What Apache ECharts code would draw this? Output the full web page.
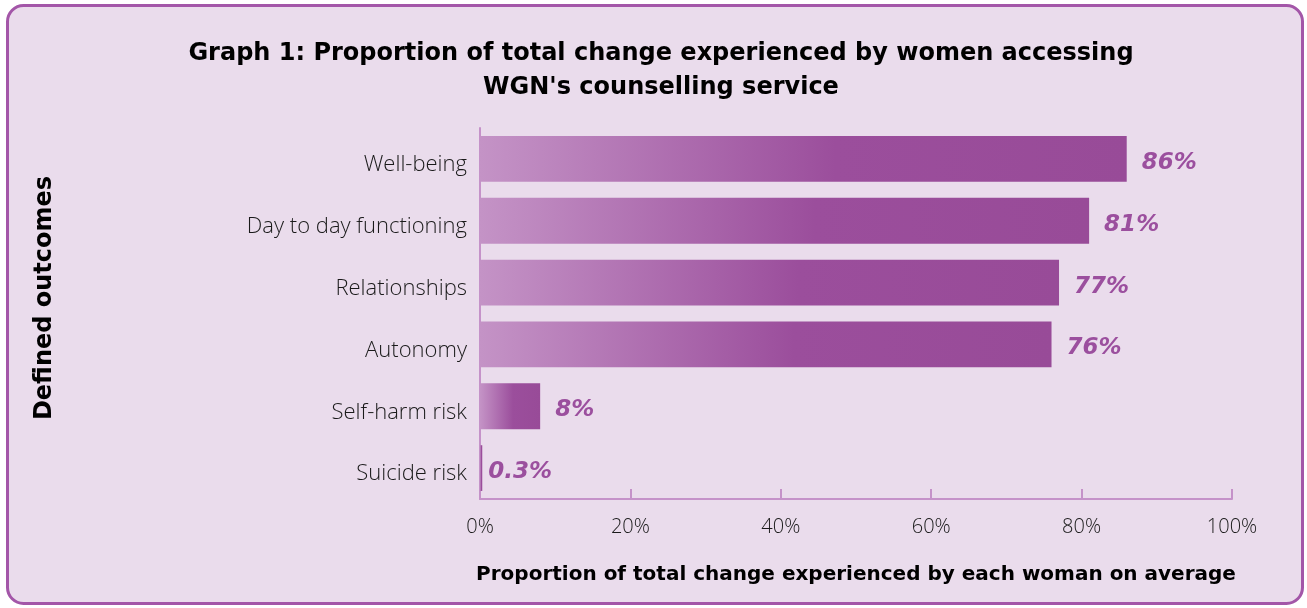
<!DOCTYPE html>
<html><head><meta charset="utf-8">
<script src="https://cdn.jsdelivr.net/npm/echarts@6/dist/echarts.min.js"></script>
<style>html,body{margin:0;padding:0;background:#fff}#c{width:1307px;height:608px}</style>
</head><body><div id="c"></div>
<script>
const categories = ["Well-being","Day to day functioning","Relationships","Autonomy","Self-harm risk","Suicide risk"];
const values = [86, 81, 77, 76, 8, 0.3];
const valueLabels = ["86%","81%","77%","76%","8%","0.3%"];
const xTicks = [0, 20, 40, 60, 80, 100];

const chart = echarts.init(document.getElementById('c'), null, {renderer:'canvas'});
const grad = new echarts.graphic.LinearGradient(0,0,1,0,[
  {offset:0,color:'#c493c6'},{offset:0.55,color:'#9b4e9c'},{offset:1,color:'#984b98'}]);
const seriesData = values.map((v,i)=> i===values.length-1 ? {value:v,label:{distance:6}} : v);
chart.setOption({
  backgroundColor:'#ffffff',
  animation:false,
  graphic:[
    {type:'rect',z:-10,shape:{x:7.5,y:5.5,width:1295,height:598,r:16},
     style:{fill:'#eadcec',stroke:'#a356a8',lineWidth:3}},
    {type:'text',x:45,y:298,rotation:Math.PI/2,
     style:{text:'Defined outcomes',font:'bold 24px "DejaVu Sans", sans-serif',fill:'#000',align:'center',verticalAlign:'middle'}}
  ],
  title:{text:"Graph 1: Proportion of total change experienced by women accessing\nWGN's counselling service",
    left:656,top:32,textAlign:'center',
    textStyle:{fontFamily:'"DejaVu Sans", sans-serif',fontWeight:'bold',fontSize:24,lineHeight:34,color:'#000'}},
  grid:{left:480,right:75,top:128,bottom:109,containLabel:false},
  xAxis:{type:'value',min:0,max:100,interval:20,
    name:'Proportion of total change experienced by each woman on average',
    nameLocation:'middle',nameGap:66,
    nameTextStyle:{fontFamily:'"DejaVu Sans", sans-serif',fontWeight:'bold',fontSize:20,color:'#000'},
    axisLine:{show:true,lineStyle:{color:'#c592c9',width:2}},
    axisTick:{show:true,inside:true,length:10,lineStyle:{color:'#c592c9',width:2}},
    splitLine:{show:false},
    axisLabel:{formatter:v=>v+'%',fontFamily:'"Open Sans", sans-serif',fontWeight:300,fontSize:20,color:'#1a1a1a',margin:18}
  },
  yAxis:{type:'category',data:categories,inverse:true,
    axisLine:{show:true,lineStyle:{color:'#c592c9',width:2}},
    axisTick:{show:false},
    axisLabel:{margin:13,formatter:'{a|{value}}',
      rich:{a:{fontFamily:'"Open Sans", sans-serif',fontWeight:300,fontSize:22,color:'#1a1a1a',padding:[12,0,0,0]}}}
  },
  series:[{type:'bar',data:seriesData,barCategoryGap:'26%',
    itemStyle:{color:grad},
    label:{show:true,position:'right',distance:15,offset:[0,4],
      formatter:p=>valueLabels[p.dataIndex],
      fontFamily:'"DejaVu Sans", sans-serif',fontWeight:'bold',fontStyle:'italic',fontSize:23,color:'#9b4f9e'}
  }]
});
</script></body></html>
